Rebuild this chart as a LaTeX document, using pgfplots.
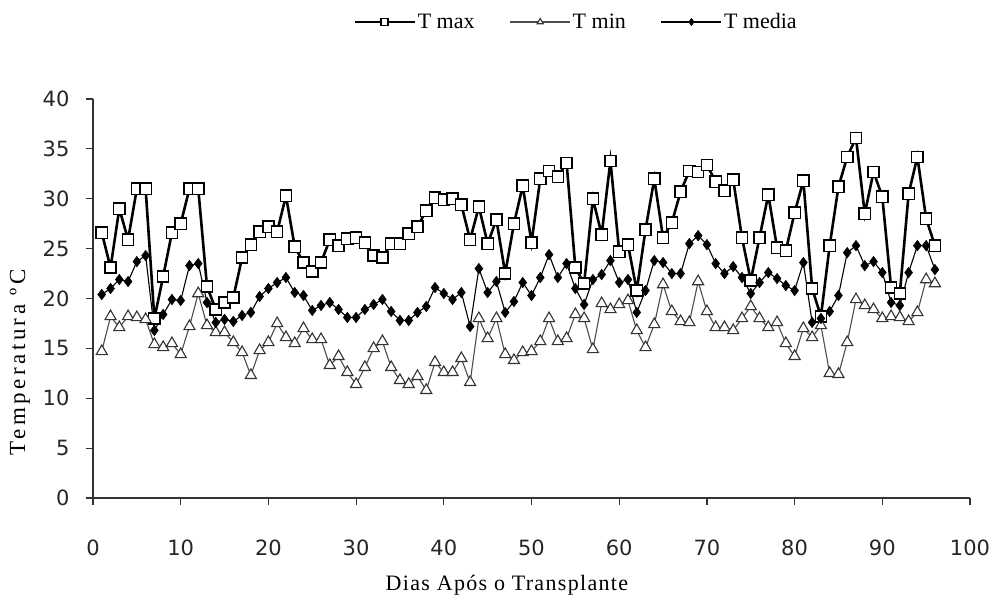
\documentclass[border=0pt]{standalone}
\usepackage{fontspec}
\setmainfont{Liberation Serif}
\newfontfamily\ticksf{DejaVu Sans}
\newfontfamily\labx[LetterSpace=6]{Liberation Serif}
\newfontfamily\laby[LetterSpace=15]{Liberation Serif}
\usepackage{pgfplots}
\usepackage{pgfplotstable}
\pgfplotsset{compat=1.18}

% day  Tmax  Tmin  Tmedia
\pgfplotstableread{
d  tmax tmin tmed
1  26.6 14.7 20.4
2  23.1 18.2 21.0
3  29.0 17.1 21.9
4  25.9 18.2 21.7
5  31.0 18.1 23.7
6  31.0 17.9 24.3
7  18.0 15.4 16.8
8  22.2 15.1 18.4
9  26.6 15.5 19.9
10 27.5 14.4 19.8
11 31.0 17.2 23.3
12 31.0 20.5 23.5
13 21.2 17.3 19.6
14 18.9 16.6 17.6
15 19.6 16.6 17.9
16 20.1 15.6 17.7
17 24.1 14.6 18.3
18 25.4 12.3 18.6
19 26.7 14.8 20.2
20 27.2 15.6 21.0
21 26.7 17.5 21.6
22 30.3 16.1 22.1
23 25.2 15.5 20.6
24 23.6 17.0 20.3
25 22.7 15.9 18.8
26 23.6 15.9 19.3
27 25.9 13.3 19.6
28 25.3 14.2 18.9
29 26.0 12.6 18.1
30 26.1 11.4 18.1
31 25.6 13.1 18.9
32 24.3 15.0 19.4
33 24.1 15.7 19.9
34 25.5 13.1 18.7
35 25.5 11.8 17.8
36 26.5 11.4 17.8
37 27.2 12.2 18.6
38 28.8 10.8 19.2
39 30.1 13.6 21.1
40 29.9 12.6 20.5
41 30.0 12.6 19.9
42 29.4 14.0 20.6
43 25.9 11.6 17.2
44 29.2 18.0 23.0
45 25.5 16.0 20.6
46 27.9 18.0 21.7
47 22.5 14.4 18.6
48 27.5 13.8 19.7
49 31.3 14.6 21.6
50 25.6 14.7 20.3
51 32.0 15.7 22.1
52 32.8 18.0 24.4
53 32.2 15.7 22.1
54 33.6 16.0 23.5
55 23.1 18.4 21.0
56 21.5 18.0 19.4
57 30.0 14.9 21.9
58 26.4 19.5 22.4
59 33.8 18.9 23.8
60 24.7 19.4 21.6
61 25.4 19.8 21.9
62 20.8 16.8 18.6
63 26.9 15.1 20.8
64 32.0 17.4 23.8
65 26.1 21.4 23.6
66 27.6 18.7 22.5
67 30.7 17.7 22.5
68 32.8 17.6 25.5
69 32.7 21.7 26.3
70 33.4 18.7 25.4
71 31.7 17.1 23.5
72 30.8 17.1 22.5
73 31.9 16.8 23.2
74 26.1 18.0 22.1
75 21.8 19.2 20.5
76 26.1 18.0 21.6
77 30.4 17.1 22.6
78 25.1 17.6 22.0
79 24.8 15.5 21.3
80 28.6 14.2 20.8
81 31.8 17.0 23.6
82 21.0 16.1 17.6
83 18.2 17.3 18.0
84 25.3 12.5 18.7
85 31.2 12.4 20.3
86 34.2 15.6 24.6
87 36.1 19.9 25.3
88 28.5 19.3 23.3
89 32.7 18.9 23.7
90 30.2 18.0 22.6
91 21.1 18.2 19.6
92 20.5 18.1 19.3
93 30.5 17.7 22.6
94 34.2 18.6 25.3
95 28.0 21.9 25.3
96 25.3 21.5 22.9
}\temps

\begin{document}
\begin{tikzpicture}
\useasboundingbox (-93pt,-103pt) rectangle (898pt,498pt);
\begin{axis}[
  scale only axis,
  width=877pt, height=399pt,
  xmin=0, xmax=100, ymin=0, ymax=40,
  xtick distance=10, ytick distance=5,
  axis x line*=bottom, axis y line*=left,
  axis line style={-, black!80, line width=1.2pt},
  tick style={black!80, line width=1.2pt},
  tick align=outside,
  major tick length=7pt,
  /pgf/number format/assume math mode=true,
  ticklabel style={font=\ticksf\fontsize{21}{21}\selectfont, text=black!85},
  xticklabel style={yshift=-31pt},
  yticklabel style={xshift=-13pt},
  xlabel={\labx\fontsize{22}{22}\selectfont Dias Após o Transplante},
  ylabel={\laby\fontsize{23}{23}\selectfont Temperatura ºC},
  xlabel style={at={(axis description cs:0.472,-0.218)}, anchor=center},
  ylabel style={at={(axis description cs:-0.0832,0.34)}, anchor=center, rotate=0},
  clip=false,
  legend columns=3,
  legend style={
    at={(axis description cs:0.2965,1.193)}, anchor=west,
    draw=none, fill=none, inner sep=0pt,
    font=\fontsize{22}{22}\selectfont,
    /tikz/every even column/.append style={column sep=33pt},
  },
  legend image code/.code={%
    \draw[mark repeat=2, mark phase=2, mark size=3.5pt] plot coordinates {(0pt,0pt) (30pt,0pt) (60pt,0pt)};
  },
]
\addplot[black, line width=2.6pt,
  mark=square*, mark size=5.6pt,
  mark options={fill=white, draw=black, line width=1.4pt}]
  table[x=d, y=tmax] {\temps};
\addlegendentry{T max}
\addplot[black!70, line width=1.1pt,
  mark=triangle*, mark size=6.4pt,
  mark options={fill=white, draw=black!80, line width=1.1pt}]
  table[x=d, y=tmin] {\temps};
\addlegendentry{T min}
\addplot[black, line width=1.1pt,
  mark=diamond*, mark size=5.2pt,
  mark options={fill=black, draw=black, line width=0.6pt}]
  table[x=d, y=tmed] {\temps};
\addlegendentry{T media}
\end{axis}
\end{tikzpicture}
\end{document}
